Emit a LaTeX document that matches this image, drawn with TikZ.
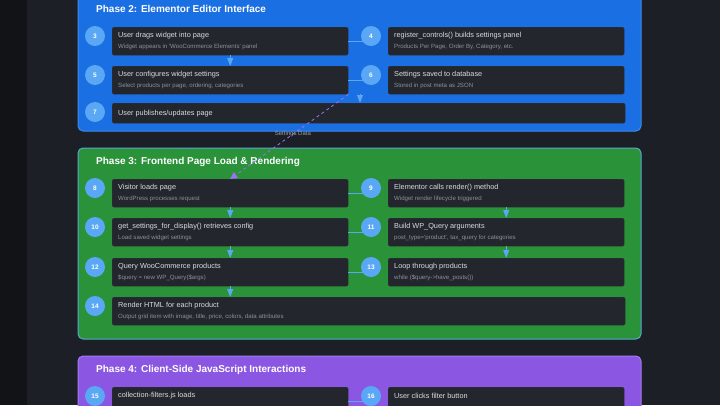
\documentclass[tikz,border=0pt]{standalone}
\usepackage{fontspec}
\setmainfont{Liberation Sans}
\usepackage{tikz}
\usetikzlibrary{arrows.meta}
\definecolor{pagebg}{HTML}{1C1F25}
\definecolor{stripbg}{HTML}{111317}
\definecolor{phasetwo}{HTML}{1A6FE2}
\definecolor{phasetwoline}{HTML}{3F8AF2}
\definecolor{phasethree}{HTML}{2A9339}
\definecolor{phasethreeline}{HTML}{58A9CF}
\definecolor{phasefour}{HTML}{8A56E2}
\definecolor{phasefourline}{HTML}{A37BF2}
\definecolor{boxbg}{HTML}{23262C}
\definecolor{boxline}{HTML}{30343B}
\definecolor{numblue}{HTML}{5AA8F5}
\definecolor{maintextcol}{HTML}{D9DCE0}
\definecolor{subtextcol}{HTML}{8C9199}
\definecolor{datapurple}{HTML}{9E70F2}
\definecolor{labelgray}{HTML}{9AA0A8}
\tikzstyle{phasepanel}=[rounded corners=5pt,line width=1pt]
\tikzstyle{phasetitle}=[anchor=west,font=\fontsize{10}{12}\selectfont\bfseries,text=white,inner sep=0pt]
\tikzstyle{stepbox}=[rectangle,rounded corners=2pt,fill=boxbg,draw=boxline,line width=0.4pt,anchor=north west,minimum width=236pt,minimum height=28pt,inner sep=0pt]
\tikzstyle{widebox}=[stepbox,minimum width=513pt]
\tikzstyle{steptitle}=[anchor=west,inner sep=0pt,text=maintextcol,font=\fontsize{7.3}{9}\selectfont]
\tikzstyle{stepnote}=[anchor=west,inner sep=0pt,text=subtextcol,font=\fontsize{6.1}{7}\selectfont]
\tikzstyle{stepnum}=[circle,fill=numblue,minimum size=20pt,inner sep=0pt,text=white,font=\fontsize{6.5}{7}\selectfont\bfseries]
\tikzstyle{flow} = [draw=numblue,line width=0.8pt,-{Triangle[width=6pt,length=8pt]}]
\tikzstyle{link} = [draw=numblue,line width=0.8pt]
\tikzstyle{dataflow} = [draw=datapurple,line width=0.8pt,dash pattern=on 3pt off 3pt,-{Triangle[width=7pt,length=7pt]}]
\tikzstyle{datalabel} = [font=\fontsize{6}{7}\selectfont,text=labelgray]

\begin{document}
\begin{tikzpicture}[x=1pt,y=-1pt]
   \useasboundingbox (0,0) rectangle (720,405);
   \fill[pagebg] (0,0) rectangle (720,405);
   \fill[stripbg] (0,0) rectangle (27,405);

   % phase panels
   \path[phasepanel,fill=phasetwo,draw=phasetwoline] (78,-10) rectangle (641,131);
   \path[phasepanel,fill=phasethree,draw=phasethreeline] (78,148) rectangle (641,339);
   \path[phasepanel,fill=phasefour,draw=phasefourline] (78,356) rectangle (641,420);

   \node[phasetitle] (t2) at (96,9) {Phase 2: Elementor Editor Interface};
   \node[phasetitle] (t3) at (96,161.5) {Phase 3: Frontend Page Load \& Rendering};
   \node[phasetitle] (t4) at (96,369.5) {Phase 4: Client-Side JavaScript Interactions};

   % steps with a note line
   \foreach \pos/\name/\main/\sub in {
        {(112,27)/b3/{User drags widget into page}/{Widget appears in \textquotesingle WooCommerce Elements\textquotesingle\ panel}},
        {(388,27)/b4/{register\_controls() builds settings panel}/{Products Per Page, Order By, Category, etc.}},
        {(112,66)/b5/{User configures widget settings}/{Select products per page, ordering, categories}},
        {(388,66)/b6/{Settings saved to database}/{Stored in post meta as JSON}},
        {(112,179)/b8/{Visitor loads page}/{WordPress processes request}},
        {(388,179)/b9/{Elementor calls render() method}/{Widget render lifecycle triggered}},
        {(112,218)/b10/{get\_settings\_for\_display() retrieves config}/{Load saved widget settings}},
        {(388,218)/b11/{Build WP\_Query arguments}/{post\_type=\textquotesingle product\textquotesingle, tax\_query for categories}},
        {(112,258)/b12/{Query WooCommerce products}/{\$query = new WP\_Query(\$args)}},
        {(388,258)/b13/{Loop through products}/{while (\$query->have\_posts())}}}
   {
        \node[stepbox] (\name) at \pos {};
        \node[steptitle] (\name m) at ([xshift=6pt,yshift=-9pt]\name.north west) {\main};
        \node[stepnote] (\name s) at ([xshift=6pt,yshift=-20pt]\name.north west) {\sub};
   }
   \node[widebox] (b14) at (112,297) {};
   \node[steptitle] (b14m) at ([xshift=6pt,yshift=-9pt]b14.north west) {Render HTML for each product};
   \node[stepnote] (b14s) at ([xshift=6pt,yshift=-20pt]b14.north west) {Output grid item with image, title, price, colors, data attributes};

   % one-line steps
   \node[widebox,minimum height=20pt] (b7) at (112,103) {};
   \node[steptitle] (b7m) at ([xshift=6pt]b7.west) {User publishes/updates page};
   \foreach \pos/\name/\main in {{(112,387)/b15/{collection-filters.js loads}}, {(388,387)/b16/{User clicks filter button}}}
   {
        \node[stepbox] (\name) at \pos {};
        \node[steptitle] (\name m) at ([xshift=6pt,yshift=-9pt]\name.north west) {\main};
   }

   % step numbers
   \foreach \num in {3,...,16}
        \node[stepnum] (n\num) at ([xshift=-17pt,yshift=-9pt]b\num.north west) {\num};

   % connect boxes
   \foreach \source/\dest in {3/4, 5/6, 8/9, 10/11, 12/13, 15/16}
          \draw[link] (b\source.east) -- (b\source.east -| n\dest.center);
   \foreach \source/\dest in {3/5, 8/10, 10/12, 12/14, 9/11, 11/13}
          \draw[flow] (b\source.south) -- (b\source.south |- b\dest.north);
   \coordinate (s7) at (360,94);
   \draw[flow] (s7) -- (s7 |- b7.north);

   \draw[dataflow] (b5.south east) -- node[datalabel,pos=0.47] {Settings Data} (b8.north);
\end{tikzpicture}
\end{document}
